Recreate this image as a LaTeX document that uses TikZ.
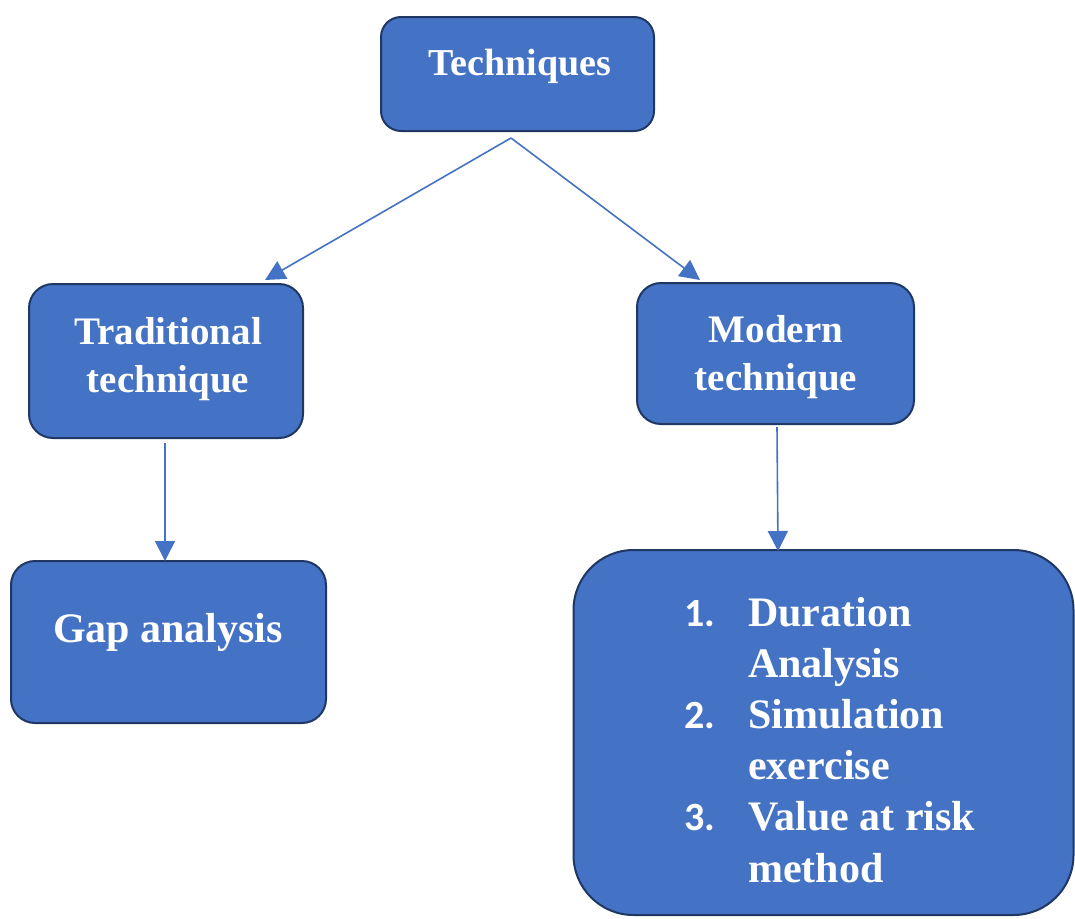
\documentclass[tikz,border=0pt]{standalone}
\usepackage{fontspec}
\setmainfont{Liberation Serif}
\newfontfamily\numfont{Carlito}
\usetikzlibrary{arrows.meta}

\definecolor{boxblue}{HTML}{4472C4}
\definecolor{boxline}{HTML}{1F3763}

\begin{document}
\begin{tikzpicture}[x=1pt,y=-1pt,
        box/.style={draw=boxline,line width=2pt,fill=boxblue,rounded corners=24pt,inner sep=0pt},
        boxtext/.style={text=white,font=\bfseries\fontsize{39}{48}\selectfont,align=center,inner sep=0pt,anchor=base},
        link/.style={draw=boxblue,line width=1.6pt,-{Triangle[length=20pt,width=20pt]}}]
        \useasboundingbox (0,0) rectangle (1075,918);

        % boxes
        \node[box,minimum width=273pt,minimum height=114pt,rounded corners=20pt](tech)at(517.5,74){};
        \node[box,minimum width=274pt,minimum height=154pt](trad)at(166,361){};
        \node[box,minimum width=277pt,minimum height=141pt](modern)at(775.5,353.5){};
        \node[box,minimum width=315pt,minimum height=162pt](gap)at(168.5,642){};
        \node[box,minimum width=500pt,minimum height=365pt,rounded corners=60pt](list)at(823.5,732.5){};

        % texts
        \node[boxtext,font=\bfseries\fontsize{38}{48}\selectfont](techtext)at(520,75){Techniques};
        \node[boxtext](tradtext)at(168,392){Traditional\\technique};
        \node[boxtext](moderntext)at(776,390){Modern\\technique};
        \node[boxtext,font=\bfseries\fontsize{42}{48}\selectfont](gaptext)at(168,642){Gap analysis};
        \node[boxtext,anchor=base west,align=left,font=\bfseries\fontsize{42}{51.2}\selectfont](listtext)at(684,626){%
            \begin{tabular}[t]{@{}p{64pt}@{}l@{}}
                {\numfont\fontsize{40}{51.2}\selectfont 1.} & Duration\\
                & Analysis\\
                {\numfont\fontsize{40}{51.2}\selectfont 2.} & Simulation\\
                & exercise\\
                {\numfont\fontsize{40}{51.2}\selectfont 3.} & Value at risk\\
                & method
            \end{tabular}};

        % connectors
        \coordinate(split)at(511,138);
        \coordinate(tradin)at(265,280);
        \coordinate(modernin)at(700,280);
        \coordinate(tradout)at(165,443);
        \coordinate(gapin)at(165,561);
        \coordinate(modernout)at(777,427);
        \coordinate(listin)at(778,551);
        \draw[link](split)--(tradin);
        \draw[link](split)--(modernin);
        \draw[link](tradout)--(gapin);
        \draw[link](modernout)--(listin);
    \end{tikzpicture}
\end{document}
